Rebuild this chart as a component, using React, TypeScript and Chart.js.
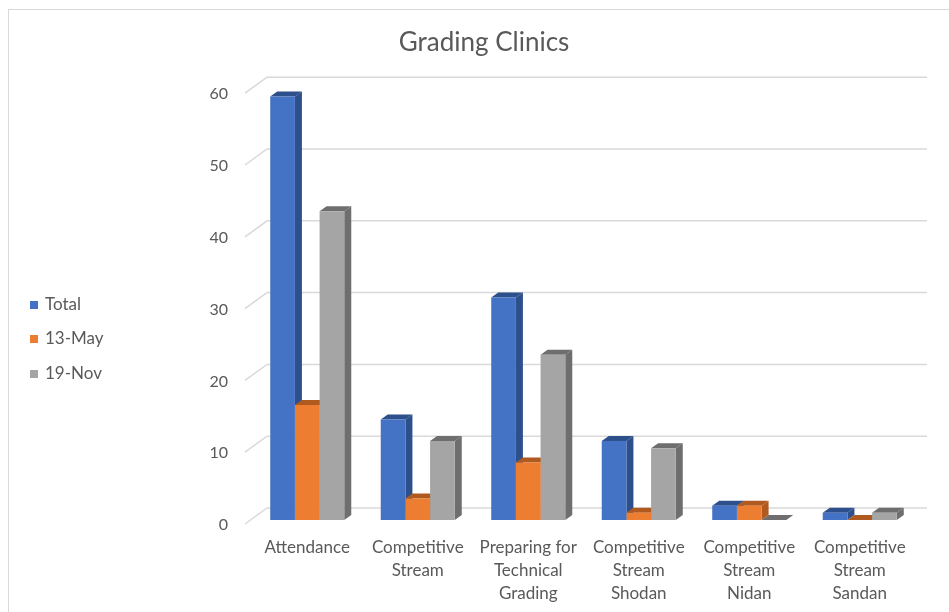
import React, { useEffect, useRef } from "react";
import { Chart, registerables } from "chart.js";

Chart.register(...registerables);

const categories: string[][] = [
  ["Attendance"],
  ["Competitive", "Stream"],
  ["Preparing for", "Technical", "Grading"],
  ["Competitive", "Stream", "Shodan"],
  ["Competitive", "Stream", "Nidan"],
  ["Competitive", "Stream", "Sandan"],
];
const totalValues = [59, 14, 31, 11, 2, 1];
const mayValues = [16, 3, 8, 1, 2, 0];
const novValues = [43, 11, 23, 10, 0, 1];
const seriesLabels = ["Total", "13-May", "19-Nov"];
const frontColors = ["#4472c4", "#ed7d31", "#a5a5a5"];
const sideColors = ["#2d4f8c", "#b05a1f", "#6e6e6e"];
const yTicks = [0, 10, 20, 30, 40, 50, 60];

const TEXT = "#595959";
const FONT = "Lato, 'Open Sans', sans-serif";
const DX = 7;
const DY = 5;

const decorPlugin = {
  id: "decor",
  beforeDraw(chart: any) {
    const ctx = chart.ctx;
    ctx.save();
    ctx.fillStyle = "#ffffff";
    ctx.fillRect(0, 0, chart.width, chart.height);
    ctx.strokeStyle = "#d9d9d9";
    ctx.lineWidth = 1;
    ctx.strokeRect(8.5, 9.5, chart.width + 20, chart.height + 20);
    ctx.restore();
  },
  beforeDatasetsDraw(chart: any) {
    const ctx = chart.ctx;
    const area = chart.chartArea;
    const y = chart.scales.y;
    ctx.save();
    // back wall gridlines with floor diagonals
    ctx.strokeStyle = "#d9d9d9";
    ctx.lineWidth = 1.5;
    yTicks.forEach((v) => {
      const yf = y.getPixelForValue(v);
      const yb = yf - 12;
      ctx.beginPath();
      ctx.moveTo(area.left - 7, yf + 4);
      ctx.lineTo(area.left + 15, yb);
      ctx.lineTo(area.right + 12, yb);
      ctx.stroke();
    });
    // 3D side and top faces
    chart.data.datasets.forEach((ds: any, di: number) => {
      const meta = chart.getDatasetMeta(di);
      meta.data.forEach((bar: any) => {
        const p = bar.getProps(["x", "y", "base", "width"], true);
        const l = p.x - p.width / 2;
        const r = p.x + p.width / 2;
        const top = Math.min(p.y, p.base);
        const bottom = p.base;
        ctx.fillStyle = sideColors[di];
        ctx.beginPath();
        ctx.moveTo(r, bottom);
        ctx.lineTo(r, top);
        ctx.lineTo(r + DX, top - DY);
        ctx.lineTo(r + DX, bottom - DY);
        ctx.closePath();
        ctx.fill();
        ctx.beginPath();
        ctx.moveTo(l, top);
        ctx.lineTo(l + DX, top - DY);
        ctx.lineTo(r + DX, top - DY);
        ctx.lineTo(r, top);
        ctx.closePath();
        ctx.fill();
      });
    });
    ctx.restore();
  },
  afterDraw(chart: any) {
    const ctx = chart.ctx;
    ctx.save();
    ctx.font = `17px ${FONT}`;
    ctx.textBaseline = "middle";
    const ys = [305, 339, 374];
    chart.data.datasets.forEach((ds: any, i: number) => {
      ctx.fillStyle = ds.backgroundColor;
      ctx.fillRect(30, ys[i] - 4, 8, 8);
      ctx.fillStyle = TEXT;
      ctx.fillText(ds.label, 45, ys[i]);
    });
    ctx.restore();
  },
};

export default function App() {
  const canvasRef = useRef<HTMLCanvasElement | null>(null);

  useEffect(() => {
    if (!canvasRef.current) return;
    const chart = new Chart(canvasRef.current, {
      type: "bar",
      data: {
        labels: categories as any,
        datasets: [
          { label: seriesLabels[0], data: totalValues, backgroundColor: frontColors[0] },
          { label: seriesLabels[1], data: mayValues, backgroundColor: frontColors[1] },
          { label: seriesLabels[2], data: novValues, backgroundColor: frontColors[2] },
        ],
      },
      options: {
        animation: false,
        responsive: true,
        maintainAspectRatio: false,
        layout: { padding: { left: 53, right: 34, top: 0, bottom: 0 } },
        datasets: {
          bar: { barPercentage: 1, categoryPercentage: 0.67 },
        },
        plugins: {
          legend: { display: false },
          tooltip: { enabled: false },
          title: {
            display: true,
            text: "Grading Clinics",
            color: TEXT,
            font: { family: FONT, size: 26, weight: "normal", lineHeight: 1.2 },
            padding: { top: 27, bottom: 31 },
          },
        },
        scales: {
          x: {
            grid: { display: false, drawTicks: false },
            border: { display: false },
            ticks: {
              color: TEXT,
              font: { family: FONT, size: 17, lineHeight: 1.35 },
              padding: 16,
              maxRotation: 0,
              autoSkip: false,
            },
            afterFit(scale: any) {
              scale.height = 92;
            },
          },
          y: {
            min: 0,
            max: 60,
            grid: { display: false, drawTicks: false },
            border: { display: false },
            ticks: {
              stepSize: 10,
              color: TEXT,
              font: { family: FONT, size: 16 },
              padding: 24,
              labelOffset: 5,
            },
            afterFit(scale: any) {
              scale.width = 199;
            },
          },
        },
      },
      plugins: [decorPlugin],
    });
    return () => chart.destroy();
  }, []);

  return (
    <div style={{ position: "fixed", left: 0, top: 0, width: 949, height: 612, background: "#fff" }}>
      <canvas ref={canvasRef} />
    </div>
  );
}
